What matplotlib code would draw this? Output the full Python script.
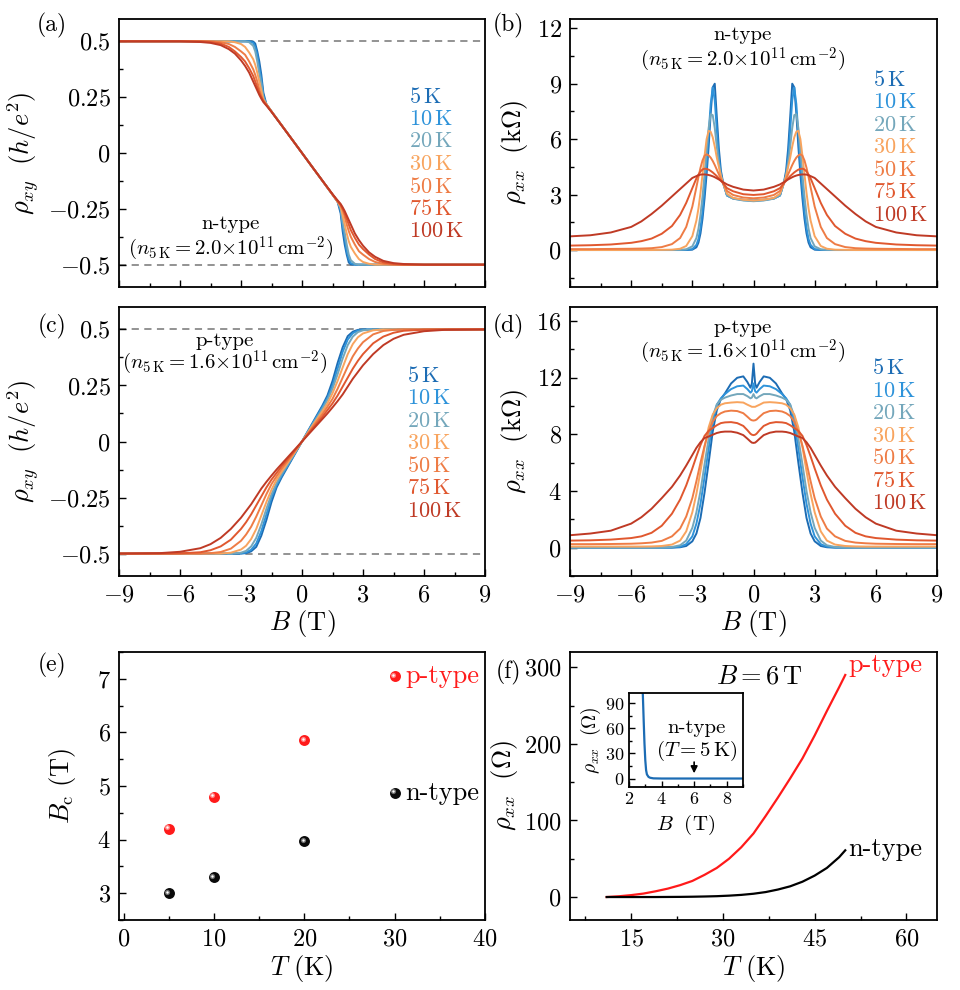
import numpy as np
import matplotlib
matplotlib.use('Agg')
import matplotlib.pyplot as plt
from matplotlib.ticker import MultipleLocator, FuncFormatter
from matplotlib.transforms import ScaledTranslation

plt.rcParams['font.family'] = 'serif'
plt.rcParams['font.serif'] = ['cmr10']
plt.rcParams['mathtext.fontset'] = 'cm'
plt.rcParams['axes.formatter.use_mathtext'] = True

# ---------------- data (B >= 0 half) ----------------
temps = ['5', '10', '20', '30', '50', '75', '100']
colors = ['#1c6cb4', '#2e93da', '#74a7bb', '#f8a45e', '#ee7c45', '#e0582f', '#bf3a25']

# (a) rho_xy, n-type, in h/e^2 (odd in B)
B_a = [0, 0.5, 1.0, 1.5, 1.75, 1.9, 2.0, 2.1, 2.2, 2.3, 2.4, 2.6, 2.8, 3.0, 3.3, 3.6, 4.0, 4.5, 5.0, 6.0, 7.0, 9.0]
rxy_n = [
    [0, -.062, -.124, -.186, -.218, -.27, -.35, -.41, -.455, -.49, -.499, -.5, -.5, -.5, -.5, -.5, -.5, -.5, -.5, -.5, -.5, -.5],
    [0, -.062, -.124, -.186, -.218, -.255, -.33, -.38, -.44, -.475, -.493, -.5, -.5, -.5, -.5, -.5, -.5, -.5, -.5, -.5, -.5, -.5],
    [0, -.062, -.124, -.186, -.218, -.25, -.31, -.355, -.41, -.455, -.48, -.496, -.5, -.5, -.5, -.5, -.5, -.5, -.5, -.5, -.5, -.5],
    [0, -.062, -.124, -.186, -.218, -.24, -.28, -.32, -.36, -.395, -.42, -.45, -.475, -.488, -.496, -.5, -.5, -.5, -.5, -.5, -.5, -.5],
    [0, -.062, -.124, -.186, -.217, -.235, -.255, -.285, -.32, -.35, -.375, -.41, -.44, -.455, -.475, -.488, -.496, -.5, -.5, -.5, -.5, -.5],
    [0, -.062, -.124, -.185, -.215, -.232, -.25, -.27, -.295, -.32, -.345, -.38, -.41, -.43, -.455, -.475, -.49, -.497, -.5, -.5, -.5, -.5],
    [0, -.062, -.123, -.184, -.212, -.228, -.243, -.26, -.28, -.3, -.32, -.36, -.39, -.415, -.445, -.465, -.483, -.493, -.497, -.5, -.5, -.5],
]

# (b) rho_xx, n-type, kOhm (even in B)
B_b = [0, 0.5, 1.0, 1.3, 1.5, 1.6, 1.7, 1.8, 1.9, 2.0, 2.1, 2.2, 2.3, 2.4, 2.5, 2.6, 2.7, 2.8, 3.0, 3.3, 3.6, 4.0, 4.5, 5.0, 5.5, 6.0, 7.0, 8.0, 9.0]
rxx_n = [
    [2.68, 2.72, 2.8, 2.95, 3.7, 4.3, 5.5, 7.2, 9.0, 8.8, 7.4, 5.6, 4.1, 2.8, 1.7, 0.9, 0.4, 0.15, 0.02, 0, 0, 0, 0, 0, 0, 0, 0, 0, 0],
    [2.66, 2.7, 2.78, 2.95, 3.65, 4.1, 5.0, 6.5, 8.1, 8.8, 7.9, 6.3, 4.7, 3.3, 2.1, 1.2, 0.6, 0.28, 0.05, 0.01, 0, 0, 0, 0, 0, 0, 0, 0, 0],
    [2.64, 2.68, 2.78, 2.97, 3.65, 4.05, 4.7, 5.6, 6.6, 7.3, 7.35, 6.6, 5.4, 4.1, 2.9, 1.9, 1.15, 0.65, 0.2, 0.04, 0.01, 0, 0, 0, 0, 0, 0, 0, 0],
    [2.68, 2.72, 2.82, 3.05, 3.65, 4.0, 4.5, 5.0, 5.6, 6.1, 6.4, 6.45, 6.0, 5.1, 4.1, 3.1, 2.25, 1.6, 0.75, 0.22, 0.07, 0.02, 0.01, 0, 0, 0, 0, 0, 0],
    [2.8, 2.84, 2.98, 3.2, 3.65, 3.85, 4.1, 4.35, 4.6, 4.82, 5.0, 5.12, 5.18, 5.1, 4.85, 4.45, 3.95, 3.4, 2.35, 1.25, 0.65, 0.32, 0.16, 0.1, 0.08, 0.07, 0.06, 0.05, 0.05],
    [2.98, 3.02, 3.18, 3.35, 3.62, 3.75, 3.88, 4.0, 4.1, 4.2, 4.28, 4.35, 4.39, 4.4, 4.36, 4.25, 4.08, 3.88, 3.35, 2.55, 1.9, 1.3, 0.88, 0.62, 0.48, 0.39, 0.3, 0.26, 0.24],
    [3.22, 3.27, 3.42, 3.55, 3.68, 3.75, 3.82, 3.88, 3.94, 3.99, 4.03, 4.06, 4.08, 4.09, 4.09, 4.08, 4.05, 4.0, 3.9, 3.6, 3.3, 2.9, 2.4, 1.95, 1.55, 1.25, 0.95, 0.8, 0.74],
]

# (c) rho_xy, p-type (odd in B)
B_c = [0, 0.5, 1.0, 1.25, 1.5, 1.75, 2.0, 2.25, 2.5, 2.75, 3.0, 3.5, 4.0, 4.5, 5.0, 6.0, 7.0, 9.0]
rxy_p = [
    [0, 0.08, 0.16, 0.205, 0.27, 0.35, 0.42, 0.47, 0.49, 0.498, 0.5, 0.5, 0.5, 0.5, 0.5, 0.5, 0.5, 0.5],
    [0, 0.077, 0.153, 0.195, 0.25, 0.325, 0.4, 0.455, 0.483, 0.495, 0.499, 0.5, 0.5, 0.5, 0.5, 0.5, 0.5, 0.5],
    [0, 0.073, 0.145, 0.185, 0.235, 0.3, 0.37, 0.43, 0.468, 0.488, 0.496, 0.5, 0.5, 0.5, 0.5, 0.5, 0.5, 0.5],
    [0, 0.068, 0.135, 0.17, 0.215, 0.27, 0.33, 0.39, 0.435, 0.465, 0.482, 0.496, 0.5, 0.5, 0.5, 0.5, 0.5, 0.5],
    [0, 0.062, 0.122, 0.155, 0.19, 0.235, 0.285, 0.335, 0.38, 0.415, 0.443, 0.478, 0.493, 0.498, 0.5, 0.5, 0.5, 0.5],
    [0, 0.056, 0.11, 0.14, 0.17, 0.205, 0.245, 0.285, 0.325, 0.36, 0.39, 0.438, 0.468, 0.485, 0.494, 0.499, 0.5, 0.5],
    [0, 0.05, 0.1, 0.125, 0.152, 0.18, 0.21, 0.245, 0.28, 0.31, 0.34, 0.39, 0.43, 0.458, 0.476, 0.492, 0.498, 0.5],
]

# (d) rho_xx, p-type, kOhm (even in B)
B_d = [0, 0.08, 0.15, 0.3, 0.5, 0.8, 1.1, 1.4, 1.6, 1.8, 2.0, 2.2, 2.4, 2.6, 2.8, 3.0, 3.3, 3.6, 4.0, 4.5, 5.0, 5.5, 6.0, 7.0, 8.0, 9.0]
rxx_p = [
    [13.0, 11.6, 11.3, 11.7, 12.1, 12.0, 11.6, 10.9, 10.5, 9.7, 8.2, 6.0, 3.9, 2.1, 1.0, 0.45, 0.12, 0.03, 0, 0, 0, 0, 0, 0, 0, 0],
    [11.6, 11.05, 10.95, 11.2, 11.45, 11.4, 11.2, 10.85, 10.55, 10.1, 8.9, 7.0, 5.0, 3.1, 1.7, 0.8, 0.25, 0.07, 0.02, 0, 0, 0, 0, 0, 0, 0],
    [10.85, 10.6, 10.55, 10.7, 10.85, 10.85, 10.75, 10.6, 10.45, 10.1, 9.3, 7.7, 5.9, 4.0, 2.5, 1.4, 0.5, 0.17, 0.05, 0.01, 0, 0, 0, 0, 0, 0],
    [9.95, 9.95, 10.0, 10.1, 10.25, 10.28, 10.25, 10.2, 10.1, 9.85, 9.4, 8.5, 7.1, 5.4, 3.8, 2.5, 1.15, 0.5, 0.22, 0.12, 0.09, 0.08, 0.08, 0.08, 0.08, 0.08],
    [8.98, 9.0, 9.05, 9.25, 9.5, 9.65, 9.68, 9.62, 9.5, 9.3, 8.9, 8.2, 7.2, 6.0, 4.7, 3.5, 2.2, 1.35, 0.8, 0.48, 0.36, 0.31, 0.28, 0.26, 0.25, 0.25],
    [7.95, 7.98, 8.05, 8.3, 8.6, 8.8, 8.87, 8.85, 8.8, 8.65, 8.45, 8.25, 7.9, 7.25, 6.45, 5.6, 4.4, 3.4, 2.4, 1.55, 1.05, 0.8, 0.68, 0.57, 0.52, 0.5],
    [7.4, 7.42, 7.5, 7.7, 7.95, 8.12, 8.2, 8.2, 8.17, 8.1, 7.98, 7.85, 7.75, 7.45, 7.05, 6.55, 5.8, 5.1, 4.3, 3.5, 2.75, 2.15, 1.7, 1.2, 1.0, 0.88],
]

# (e) critical field
T_e = [5, 10, 20, 30]
Bc_p = [4.2, 4.8, 5.85, 7.05]
Bc_n = [3.0, 3.3, 3.97, 4.87]

# (f) rho_xx(T) at 6 T, Ohm
T_f = [11, 13, 15, 17, 19, 21, 23, 25, 27, 29, 31, 33, 35, 37, 39, 41, 43, 45, 47, 49, 50]
rho_p = [0, 1, 2.5, 4.5, 7.5, 11, 15.5, 21, 29, 38, 50, 65, 83, 106, 130, 155, 181, 211, 243, 274, 290]
rho_n = [0, 0, 0, 0, 0, 0.1, 0.2, 0.4, 0.7, 1.1, 1.8, 2.8, 4.3, 6.5, 9.8, 14, 20, 28, 38, 52, 61]

# inset: n-type rho_xx(B) at 5 K, Ohm
B_in = [2.8, 2.85, 2.9, 2.95, 3.0, 3.05, 3.1, 3.2, 3.3, 3.5, 4.0, 5.0, 6.0, 7.0, 8.0, 9.0]
rho_in = [110, 100, 70, 42, 22, 10, 5, 2, 1, 0.3, 0.1, 0.1, 0.1, 0.1, 0.1, 0.1]


def mirror_even(b, v):
    b, v = np.asarray(b), np.asarray(v)
    return np.r_[-b[:0:-1], b], np.r_[v[:0:-1], v]


def mirror_odd(b, v):
    b, v = np.asarray(b), np.asarray(v)
    return np.r_[-b[:0:-1], b], np.r_[-v[:0:-1], v]


def style(ax, size=17.5):
    ax.tick_params(which='both', direction='in', top=False, right=False, labelsize=size, pad=6)
    ax.tick_params(which='major', length=5, width=1)
    ax.tick_params(which='minor', length=3, width=1)
    for s in ax.spines.values():
        s.set_linewidth(1.3)


W, H = 960, 990


def box(l, t, r, b):
    return [l / W, 1 - b / H, (r - l) / W, (b - t) / H]


fig = plt.figure(figsize=(9.6, 9.9))
ax_a = fig.add_axes(box(119, 19, 485, 287))
ax_b = fig.add_axes(box(570, 19, 937, 287))
ax_c = fig.add_axes(box(119, 307, 485, 576))
ax_d = fig.add_axes(box(570, 307, 937, 576))
ax_e = fig.add_axes(box(119, 652, 485, 920))
ax_f = fig.add_axes(box(570, 652, 937, 920))

gfmt = FuncFormatter(lambda v, p: f'${v:g}$')
lw = 1.4

# ---- (a)
for vals, c in zip(rxy_n, colors):
    x, y = mirror_odd(B_a, vals)
    ax_a.plot(x, y, color=c, lw=lw)
# ---- (c)
for vals, c in zip(rxy_p, colors):
    x, y = mirror_odd(B_c, vals)
    ax_c.plot(x, y, color=c, lw=lw)
for ax in (ax_a, ax_c):
    for h in (0.5, -0.5):
        ax.axhline(h, color='#8a8a8a', ls=(0, (4, 3)), lw=1.3, zorder=0)
    ax.set_xlim(-9, 9)
    ax.set_ylim(-0.6, 0.6)
    ax.yaxis.set_major_locator(MultipleLocator(0.25))
    ax.yaxis.set_minor_locator(MultipleLocator(0.125))
    ax.yaxis.set_major_formatter(gfmt)
    ax.set_ylabel(r'$\rho_{xy}\ \ (h/e^2)$', fontsize=19)
    ax.yaxis.set_label_coords(-0.212, 0.5)

# ---- (b)
for vals, c in zip(rxx_n, colors):
    x, y = mirror_even(B_b, vals)
    ax_b.plot(x, y, color=c, lw=lw)
ax_b.set_ylim(-2, 12.5)
ax_b.yaxis.set_major_locator(MultipleLocator(3))
ax_b.yaxis.set_minor_locator(MultipleLocator(1.5))
# ---- (d)
for vals, c in zip(rxx_p, colors):
    x, y = mirror_even(B_d, vals)
    ax_d.plot(x, y, color=c, lw=lw)
ax_d.set_ylim(-2, 17)
ax_d.yaxis.set_major_locator(MultipleLocator(4))
ax_d.yaxis.set_minor_locator(MultipleLocator(2))
for ax in (ax_b, ax_d):
    ax.set_xlim(-9, 9)
    ax.set_ylabel(r'$\rho_{xx}\ \ (\mathrm{k}\Omega)$', fontsize=19)
    ax.yaxis.set_label_coords(-0.109, 0.5)

for ax in (ax_a, ax_b, ax_c, ax_d):
    ax.xaxis.set_major_locator(MultipleLocator(3))
    ax.xaxis.set_minor_locator(MultipleLocator(1.5))
    style(ax)
for ax in (ax_a, ax_b):
    ax.tick_params(labelbottom=False)
for ax in (ax_c, ax_d):
    ax.xaxis.set_major_formatter(gfmt)
    ax.set_xlabel(r'$B\ (\mathrm{T})$', fontsize=19)
    ax.xaxis.set_label_coords(0.5, -0.12)

# temperature labels
for ax, x0, y0, y1 in ((ax_a, 0.792, 0.710, 0.207), (ax_b, 0.825, 0.772, 0.269),
                       (ax_c, 0.787, 0.743, 0.242), (ax_d, 0.823, 0.772, 0.270)):
    for i, (t, c) in enumerate(zip(temps, colors)):
        ax.text(x0, y0 - i * (y0 - y1) / 6, rf'${t}\,\mathrm{{K}}$', color=c, fontsize=16,
                transform=ax.transAxes, ha='left', va='center')

# carrier-density annotations
dens_n = r'$(n_{5\,\mathrm{K}}=2.0{\times}10^{11}\,\mathrm{cm}^{-2})$'
dens_p = r'$(n_{5\,\mathrm{K}}=1.6{\times}10^{11}\,\mathrm{cm}^{-2})$'
ax_a.text(-3.5, -0.32, 'n-type', fontsize=15, ha='center', va='center')
ax_a.text(-3.5, -0.43, dens_n, fontsize=15, ha='center', va='center')
ax_b.text(-0.55, 11.65, 'n-type', fontsize=15, ha='center', va='center')
ax_b.text(-0.55, 10.3, dens_n, fontsize=15, ha='center', va='center')
ax_c.text(-3.8, 0.447, 'p-type', fontsize=15, ha='center', va='center')
ax_c.text(-3.8, 0.352, dens_p, fontsize=15, ha='center', va='center')
ax_d.text(-0.55, 15.5, 'p-type', fontsize=15, ha='center', va='center')
ax_d.text(-0.55, 13.8, dens_p, fontsize=15, ha='center', va='center')

# ---- (e)
hl = ScaledTranslation(-1.5 / 100, 1.5 / 100, fig.dpi_scale_trans)
for vals, base, mid in ((Bc_p, '#ff1a1a', '#ff8080'), (Bc_n, '#0a0a0a', '#707070')):
    ax_e.scatter(T_e, vals, s=62, color=base, zorder=3, linewidths=0)
    ax_e.scatter(T_e, vals, s=14, color=mid, zorder=4, linewidths=0, transform=ax_e.transData + hl)
    ax_e.scatter(T_e, vals, s=3, color='white', zorder=5, linewidths=0, transform=ax_e.transData + hl)
ax_e.text(31.2, 7.05, 'p-type', color='#ff1a1a', fontsize=19, ha='left', va='center')
ax_e.text(31.2, 4.87, 'n-type', color='black', fontsize=19, ha='left', va='center')
ax_e.set_xlim(-0.5, 40)
ax_e.set_ylim(2.5, 7.5)
ax_e.xaxis.set_major_locator(MultipleLocator(10))
ax_e.xaxis.set_minor_locator(MultipleLocator(5))
ax_e.yaxis.set_major_locator(MultipleLocator(1))
ax_e.yaxis.set_minor_locator(MultipleLocator(0.5))
ax_e.set_ylabel(r'$B_\mathrm{c}\ (\mathrm{T})$', fontsize=19)
ax_e.yaxis.set_label_coords(-0.112, 0.5)
ax_e.set_xlabel(r'$T\ (\mathrm{K})$', fontsize=19)
ax_e.xaxis.set_label_coords(0.5, -0.125)
style(ax_e)

# ---- (f)
ax_f.plot(T_f, rho_p, color='#ff1a1a', lw=1.6)
ax_f.plot(T_f, rho_n, color='black', lw=1.6)
ax_f.text(50.5, 303, 'p-type', color='#ff1a1a', fontsize=19, ha='left', va='center')
ax_f.text(50.5, 62, 'n-type', color='black', fontsize=19, ha='left', va='center')
ax_f.text(36.0, 288, r'$B=6\,\mathrm{T}$', fontsize=19, ha='center', va='center')
ax_f.set_xlim(5, 65)
ax_f.set_ylim(-30, 320)
ax_f.xaxis.set_major_locator(MultipleLocator(15))
ax_f.xaxis.set_minor_locator(MultipleLocator(7.5))
ax_f.yaxis.set_major_locator(MultipleLocator(100))
ax_f.yaxis.set_minor_locator(MultipleLocator(50))
ax_f.set_ylabel(r'$\rho_{xx}\ \ (\Omega)$', fontsize=19)
ax_f.yaxis.set_label_coords(-0.136, 0.5)
ax_f.set_xlabel(r'$T\ (\mathrm{K})$', fontsize=19)
ax_f.xaxis.set_label_coords(0.5, -0.125)
style(ax_f)

# inset
ax_in = fig.add_axes(box(629, 693, 743, 787))
ax_in.plot(B_in, rho_in, color='#1c6cb4', lw=1.6)
ax_in.set_xlim(2, 9)
ax_in.set_ylim(-10, 102)
ax_in.xaxis.set_major_locator(MultipleLocator(2))
ax_in.xaxis.set_minor_locator(MultipleLocator(1))
ax_in.yaxis.set_major_locator(MultipleLocator(30))
ax_in.yaxis.set_minor_locator(MultipleLocator(15))
ax_in.text(6.15, 60, 'n-type', fontsize=15, ha='center', va='center')
ax_in.text(6.15, 33, r'$(T=5\,\mathrm{K})$', fontsize=15, ha='center', va='center')
ax_in.annotate('', xy=(6, 3), xytext=(6, 23),
               arrowprops=dict(arrowstyle='-|>', color='black', lw=1.2, mutation_scale=10))
ax_in.set_ylabel(r'$\rho_{xx}\ \ (\Omega)$', fontsize=14)
ax_in.yaxis.set_label_coords(-0.23, 0.5)
ax_in.set_xlabel(r'$B\ \ (\mathrm{T})$', fontsize=15)
ax_in.xaxis.set_label_coords(0.5, -0.277)
style(ax_in, size=13)
ax_in.tick_params(pad=3)
ax_in.tick_params(which='major', length=4)
ax_in.tick_params(which='minor', length=2)

# panel letters
for lab, x, y in (('(a)', 52, 25), ('(b)', 508, 25), ('(c)', 52, 326),
                  ('(d)', 508, 326), ('(e)', 52, 665), ('(f)', 508, 672)):
    fig.text(x / W, 1 - y / H, lab, fontsize=17, ha='center', va='center')

fig.savefig('out.png', dpi=100)
